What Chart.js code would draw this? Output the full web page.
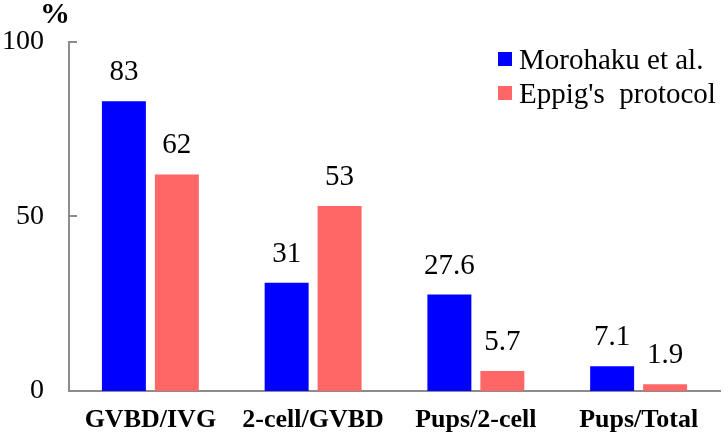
<!DOCTYPE html>
<html>
<head>
<meta charset="utf-8">
<script src="https://cdn.jsdelivr.net/npm/chart.js@4"></script>
<style>
  html, body { margin: 0; padding: 0; background: #fff; }
  #wrap { width: 724px; height: 438px; }
</style>
</head>
<body>
<div id="wrap"><canvas id="chart" width="724" height="438"></canvas></div>
<script>
// ---------- DATA ----------
const categories = ["GVBD/IVG", "2-cell/GVBD", "Pups/2-cell", "Pups/Total"];
const morohakuValues = [83, 31, 27.6, 7.1];
const eppigValues = [62, 53, 5.7, 1.9];
const valueLabels = [["83", "31", "27.6", "7.1"], ["62", "53", "5.7", "1.9"]];
const seriesNames = ["Morohaku et al.", "Eppig's  protocol"];
const yTicks = [0, 50, 100];

const BLUE = "#0000ff";
const RED = "#ff6666";
const AXIS = "#8c8c8c";
const SERIF = "'Liberation Serif', 'Times New Roman', serif";

// ---------- EXTRA DRAWING (labels, legend, inner ticks) ----------
const extras = {
  id: "extras",
  afterDraw(chart) {
    const ctx = chart.ctx;
    const y = chart.scales.y;
    const area = chart.chartArea;
    ctx.save();

    // inward tick marks on the y axis
    ctx.strokeStyle = AXIS;
    ctx.lineWidth = 2;
    yTicks.forEach(v => {
      if (v === 0) return;
      const py = Math.round(y.getPixelForValue(v));
      ctx.beginPath();
      ctx.moveTo(area.left, py);
      ctx.lineTo(area.left + 8, py);
      ctx.stroke();
    });

    // "%" unit label
    ctx.fillStyle = "#000";
    ctx.font = "bold 30px " + SERIF;
    ctx.textAlign = "center";
    ctx.textBaseline = "alphabetic";
    ctx.fillText("%", 55, 23);

    // value labels above bars
    ctx.font = "29px " + SERIF;
    chart.data.datasets.forEach((ds, di) => {
      const meta = chart.getDatasetMeta(di);
      meta.data.forEach((bar, i) => {
        ctx.fillText(valueLabels[di][i], bar.x, bar.y - 21);
      });
    });

    // legend
    ctx.textAlign = "left";
    ctx.font = "29px " + SERIF;
    chart.data.datasets.forEach((ds, di) => {
      const top = 52 + di * 34;
      ctx.fillStyle = ds.backgroundColor;
      ctx.fillRect(498, top, 14, 14);
      ctx.fillStyle = "#000";
      ctx.fillText(ds.label, 519, top + 17);
    });

    ctx.restore();
  }
};

// ---------- CHART ----------
new Chart(document.getElementById("chart"), {
  type: "bar",
  data: {
    labels: categories,
    datasets: [
      { label: seriesNames[0], data: morohakuValues, backgroundColor: BLUE },
      { label: seriesNames[1], data: eppigValues, backgroundColor: RED }
    ]
  },
  options: {
    responsive: false,
    devicePixelRatio: 1,
    animation: false,
    categoryPercentage: 0.651,
    barPercentage: 0.83,
    layout: { padding: { top: 38, right: 4, left: 0, bottom: 0 } },
    plugins: { legend: { display: false }, tooltip: { enabled: false } },
    scales: {
      x: {
        grid: { display: false, drawTicks: false },
        border: { display: true, color: AXIS, width: 2 },
        ticks: {
          color: "#000",
          padding: 14,
          maxRotation: 0,
          font: { family: SERIF, size: 26, weight: "bold" }
        },
        afterFit(scale) { scale.height = 47; }
      },
      y: {
        min: 0,
        max: 100,
        grid: { display: false, drawTicks: false },
        border: { display: true, color: AXIS, width: 2 },
        afterBuildTicks(scale) { scale.ticks = yTicks.map(v => ({ value: v })); },
        ticks: {
          color: "#000",
          padding: 25,
          font: { family: SERIF, size: 28 }
        },
        afterFit(scale) { scale.width = 69; }
      }
    }
  },
  plugins: [extras]
});
</script>
</body>
</html>
